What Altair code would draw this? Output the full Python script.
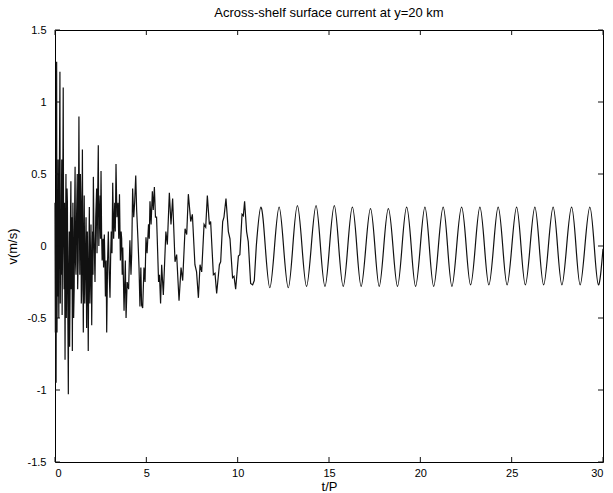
import altair as alt
import pandas as pd

title_text = "Across-shelf surface current at y=20 km"
x_ticks = [0, 5, 10, 15, 20, 25, 30]
y_ticks = [-1.5, -1, -0.5, 0, 0.5, 1, 1.5]

# transient part, t = 0 .. 2
early_t = [0.00, 0.02, 0.04, 0.06, 0.08, 0.09, 0.11, 0.13,
           0.15, 0.17, 0.19, 0.21, 0.24, 0.27, 0.29, 0.31,
           0.33, 0.35, 0.37, 0.39, 0.42, 0.45, 0.47, 0.50,
           0.52, 0.55, 0.57, 0.60, 0.62, 0.64, 0.66, 0.68,
           0.70, 0.73, 0.75, 0.78, 0.80, 0.82, 0.85, 0.87,
           0.89, 0.91, 0.93, 0.95, 0.98, 1.00, 1.02, 1.05,
           1.08, 1.10, 1.12, 1.15, 1.18, 1.22, 1.24, 1.27,
           1.29, 1.31, 1.34, 1.36, 1.39, 1.42, 1.44, 1.46,
           1.48, 1.50, 1.53, 1.55, 1.58, 1.60, 1.63, 1.66,
           1.70, 1.73, 1.75, 1.77, 1.80, 1.82, 1.85, 1.88,
           1.91, 1.94, 1.97]
early_v = [0.30, -0.60, 0.20, -0.95, 0.40, 1.28, -0.60, 0.10,
           -0.35, 0.60, -0.10, -0.50, 0.50, 1.21, -0.40, 0.20,
           -0.20, 0.30, 0.60, -0.48, 0.20, 1.10, 0.10, -0.30,
           0.30, -0.79, -0.10, 0.50, -0.50, -0.20, 0.40, 0.30,
           -0.40, -1.03, -0.20, 0.10, -0.70, -0.40, 0.20, 0.45,
           -0.30, -0.25, 0.20, -0.73, 0.30, 0.10, -0.50, -0.30,
           0.30, 0.55, -0.10, -0.20, 0.20, 0.50, -0.30, -0.10,
           0.40, 0.90, 0.10, -0.20, 0.50, 0.30, -0.40, -0.30,
           0.20, 0.67, -0.20, -0.60, 0.10, 0.35, -0.40, -0.15,
           0.20, -0.57, -0.20, 0.10, -0.30, -0.73, -0.10, 0.27,
           -0.40, -0.20, 0.15]

# transient part, t = 2 .. 6
mid_t = [2.01, 2.04, 2.06, 2.08, 2.10, 2.13, 2.15, 2.19,
         2.23, 2.28, 2.30, 2.32, 2.37, 2.40, 2.43, 2.47,
         2.49, 2.52, 2.55, 2.58, 2.63, 2.66, 2.70, 2.73,
         2.76, 2.80, 2.83, 2.88, 2.92, 2.97, 3.01, 3.05,
         3.08, 3.12, 3.16, 3.21, 3.27, 3.30, 3.34, 3.39,
         3.45, 3.49, 3.53, 3.58, 3.62, 3.65, 3.68, 3.71,
         3.78, 3.85, 3.89, 3.95, 4.03, 4.10, 4.16, 4.20,
         4.25, 4.31, 4.36, 4.42, 4.47, 4.54, 4.60, 4.65,
         4.70, 4.74, 4.80, 4.87, 4.93, 4.98, 5.04, 5.12,
         5.16, 5.20, 5.26, 5.33, 5.38, 5.44, 5.50, 5.56,
         5.62, 5.67, 5.72, 5.78, 5.84, 5.93]
mid_v = [-0.55, -0.10, 0.10, -0.20, 0.48, 0.10, 0.00, -0.25,
         0.20, 0.40, -0.05, 0.15, 0.70, 0.00, 0.20, 0.35,
         0.05, 0.52, 0.10, -0.10, 0.05, -0.15, 0.08, -0.10,
         -0.35, -0.10, -0.60, -0.10, 0.10, -0.20, -0.36, -0.05,
         0.10, -0.05, 0.44, 0.05, 0.30, 0.10, 0.57, 0.20,
         0.30, 0.05, 0.36, -0.10, 0.10, 0.05, -0.20, -0.01,
         -0.45, -0.10, -0.50, -0.25, -0.30, 0.04, -0.20, -0.05,
         0.40, 0.20, 0.30, 0.49, 0.25, 0.05, -0.15, -0.42,
         -0.15, -0.41, -0.43, -0.15, -0.25, 0.06, -0.05, 0.15,
         0.05, 0.31, 0.15, 0.38, 0.25, 0.41, 0.20, 0.20,
         -0.04, -0.25, -0.20, -0.40, -0.13, -0.34]

# transient part, t = 6 .. 11
late_t = [6.07, 6.15, 6.26, 6.35, 6.44, 6.57, 6.66, 6.79,
          6.90, 6.99, 7.12, 7.21, 7.30, 7.43, 7.52, 7.66,
          7.75, 7.85, 7.94, 8.03, 8.16, 8.25, 8.34, 8.45,
          8.52, 8.67, 8.76, 8.85, 9.00, 9.07, 9.18, 9.25,
          9.36, 9.49, 9.58, 9.72, 9.80, 9.89, 10.04, 10.12,
          10.24, 10.31, 10.38, 10.49, 10.58, 10.71, 10.82, 10.91,
          11.02]
late_v = [0.10, 0.01, 0.37, 0.15, 0.33, -0.11, -0.06, -0.38,
          -0.15, -0.24, 0.12, 0.08, 0.36, 0.17, 0.22, -0.13,
          -0.18, -0.36, -0.13, -0.18, 0.15, 0.13, 0.35, 0.15,
          0.17, -0.20, -0.19, -0.33, -0.13, -0.11, 0.17, 0.20,
          0.33, 0.10, 0.05, -0.22, -0.21, -0.30, -0.07, -0.06,
          0.22, 0.21, 0.31, 0.10, 0.03, -0.26, -0.27, -0.24,
          0.00]

# settled, regular oscillation (peaks, crossings, troughs)
smooth_t = [11.02, 11.27, 11.51, 11.76, 12.02, 12.27, 12.51, 12.77, 13.02, 13.27, 13.52, 13.77,
            14.03, 14.29, 14.53, 14.78, 15.03, 15.29, 15.53, 15.78, 16.03, 16.28, 16.52, 16.76,
            17.02, 17.27, 17.51, 17.75, 18.00, 18.25, 18.50, 18.75, 19.00, 19.25, 19.50, 19.74,
            20.00, 20.25, 20.49, 20.73, 20.99, 21.25, 21.49, 21.73, 21.99, 22.26, 22.51, 22.75,
            23.01, 23.26, 23.51, 23.75, 24.01, 24.26, 24.51, 24.75, 25.01, 25.27, 25.51, 25.75,
            26.01, 26.27, 26.51, 26.75, 27.01, 27.27, 27.51, 27.75, 28.01, 28.28, 28.52, 28.75,
            29.01, 29.28, 29.52, 29.75, 30.00]
smooth_v = [0.00, 0.27, 0.00, -0.29, 0.00, 0.27, 0.00, -0.29, 0.00, 0.28, 0.00, -0.28,
            0.00, 0.28, 0.00, -0.28, 0.00, 0.28, 0.00, -0.28, 0.00, 0.27, 0.00, -0.28,
            0.00, 0.26, 0.00, -0.28, 0.00, 0.26, 0.00, -0.28, 0.00, 0.27, 0.00, -0.28,
            0.00, 0.27, 0.00, -0.28, 0.00, 0.27, 0.00, -0.28, 0.00, 0.27, 0.00, -0.27,
            0.00, 0.27, 0.00, -0.27, 0.00, 0.27, 0.00, -0.27, 0.00, 0.27, 0.00, -0.27,
            0.00, 0.27, 0.00, -0.27, 0.00, 0.27, 0.00, -0.27, 0.00, 0.27, 0.00, -0.27,
            0.00, 0.27, 0.00, -0.27, -0.02]

W, H = 548, 432
FONT = "Liberation Sans"
INK = "#111111"

xs = alt.Scale(domain=[0, 30], nice=False, zero=False)
ys = alt.Scale(domain=[-1.5, 1.5], nice=False, zero=False)

x_axis = alt.Axis(values=x_ticks, title="t/P", tickSize=0, domain=False, grid=False,
                  labelPadding=5, titlePadding=2, labelExpr="toString(datum.value)")
y_axis = alt.Axis(values=y_ticks, title="v(m/s)", tickSize=0, domain=False, grid=False,
                  labelPadding=9, titlePadding=8, labelExpr="toString(datum.value)")


def xenc(field="t"):
    return alt.X(f"{field}:Q", scale=xs, axis=x_axis)


def yenc(field="v"):
    return alt.Y(f"{field}:Q", scale=ys, axis=y_axis)


df_noisy = pd.DataFrame({"t": early_t + mid_t + late_t, "v": early_v + mid_v + late_v})
df_smooth = pd.DataFrame({"t": smooth_t, "v": smooth_v})
df_xt = pd.DataFrame({"t": x_ticks})
df_yt = pd.DataFrame({"v": y_ticks})

noisy = alt.Chart(df_noisy).mark_line(color=INK, strokeWidth=1.2, interpolate="linear").encode(
    x=xenc(), y=yenc())
smooth = alt.Chart(df_smooth).mark_line(color=INK, strokeWidth=1.2, interpolate="natural").encode(
    x=xenc(), y=yenc())

tick_len = 5
bottom_ticks = alt.Chart(df_xt).mark_rule(color=INK, strokeWidth=1).encode(
    x=xenc(), y=alt.value(H), y2=alt.value(H - tick_len))
top_ticks = alt.Chart(df_xt).mark_rule(color=INK, strokeWidth=1).encode(
    x=xenc(), y=alt.value(0), y2=alt.value(tick_len))
left_ticks = alt.Chart(df_yt).mark_rule(color=INK, strokeWidth=1).encode(
    y=yenc(), x=alt.value(0), x2=alt.value(tick_len))
right_ticks = alt.Chart(df_yt).mark_rule(color=INK, strokeWidth=1).encode(
    y=yenc(), x=alt.value(W), x2=alt.value(W - tick_len))

chart = alt.layer(noisy, smooth, bottom_ticks, top_ticks, left_ticks, right_ticks).properties(
    width=W,
    height=H,
    title=alt.TitleParams(title_text, fontSize=13, font=FONT, fontWeight="normal",
                          color="#000000", anchor="middle", offset=4),
    autosize="none",
    padding={"left": 55, "top": 30, "right": 10, "bottom": 31},
    background="white",
).configure_view(
    stroke="#000000", strokeWidth=1
).configure_axis(
    labelFont=FONT, labelFontSize=11, labelColor="#000000",
    titleFont=FONT, titleFontSize=13, titleFontWeight="normal", titleColor="#000000",
)

chart.save("out.html", embed_options={"renderer": "svg", "actions": False})
